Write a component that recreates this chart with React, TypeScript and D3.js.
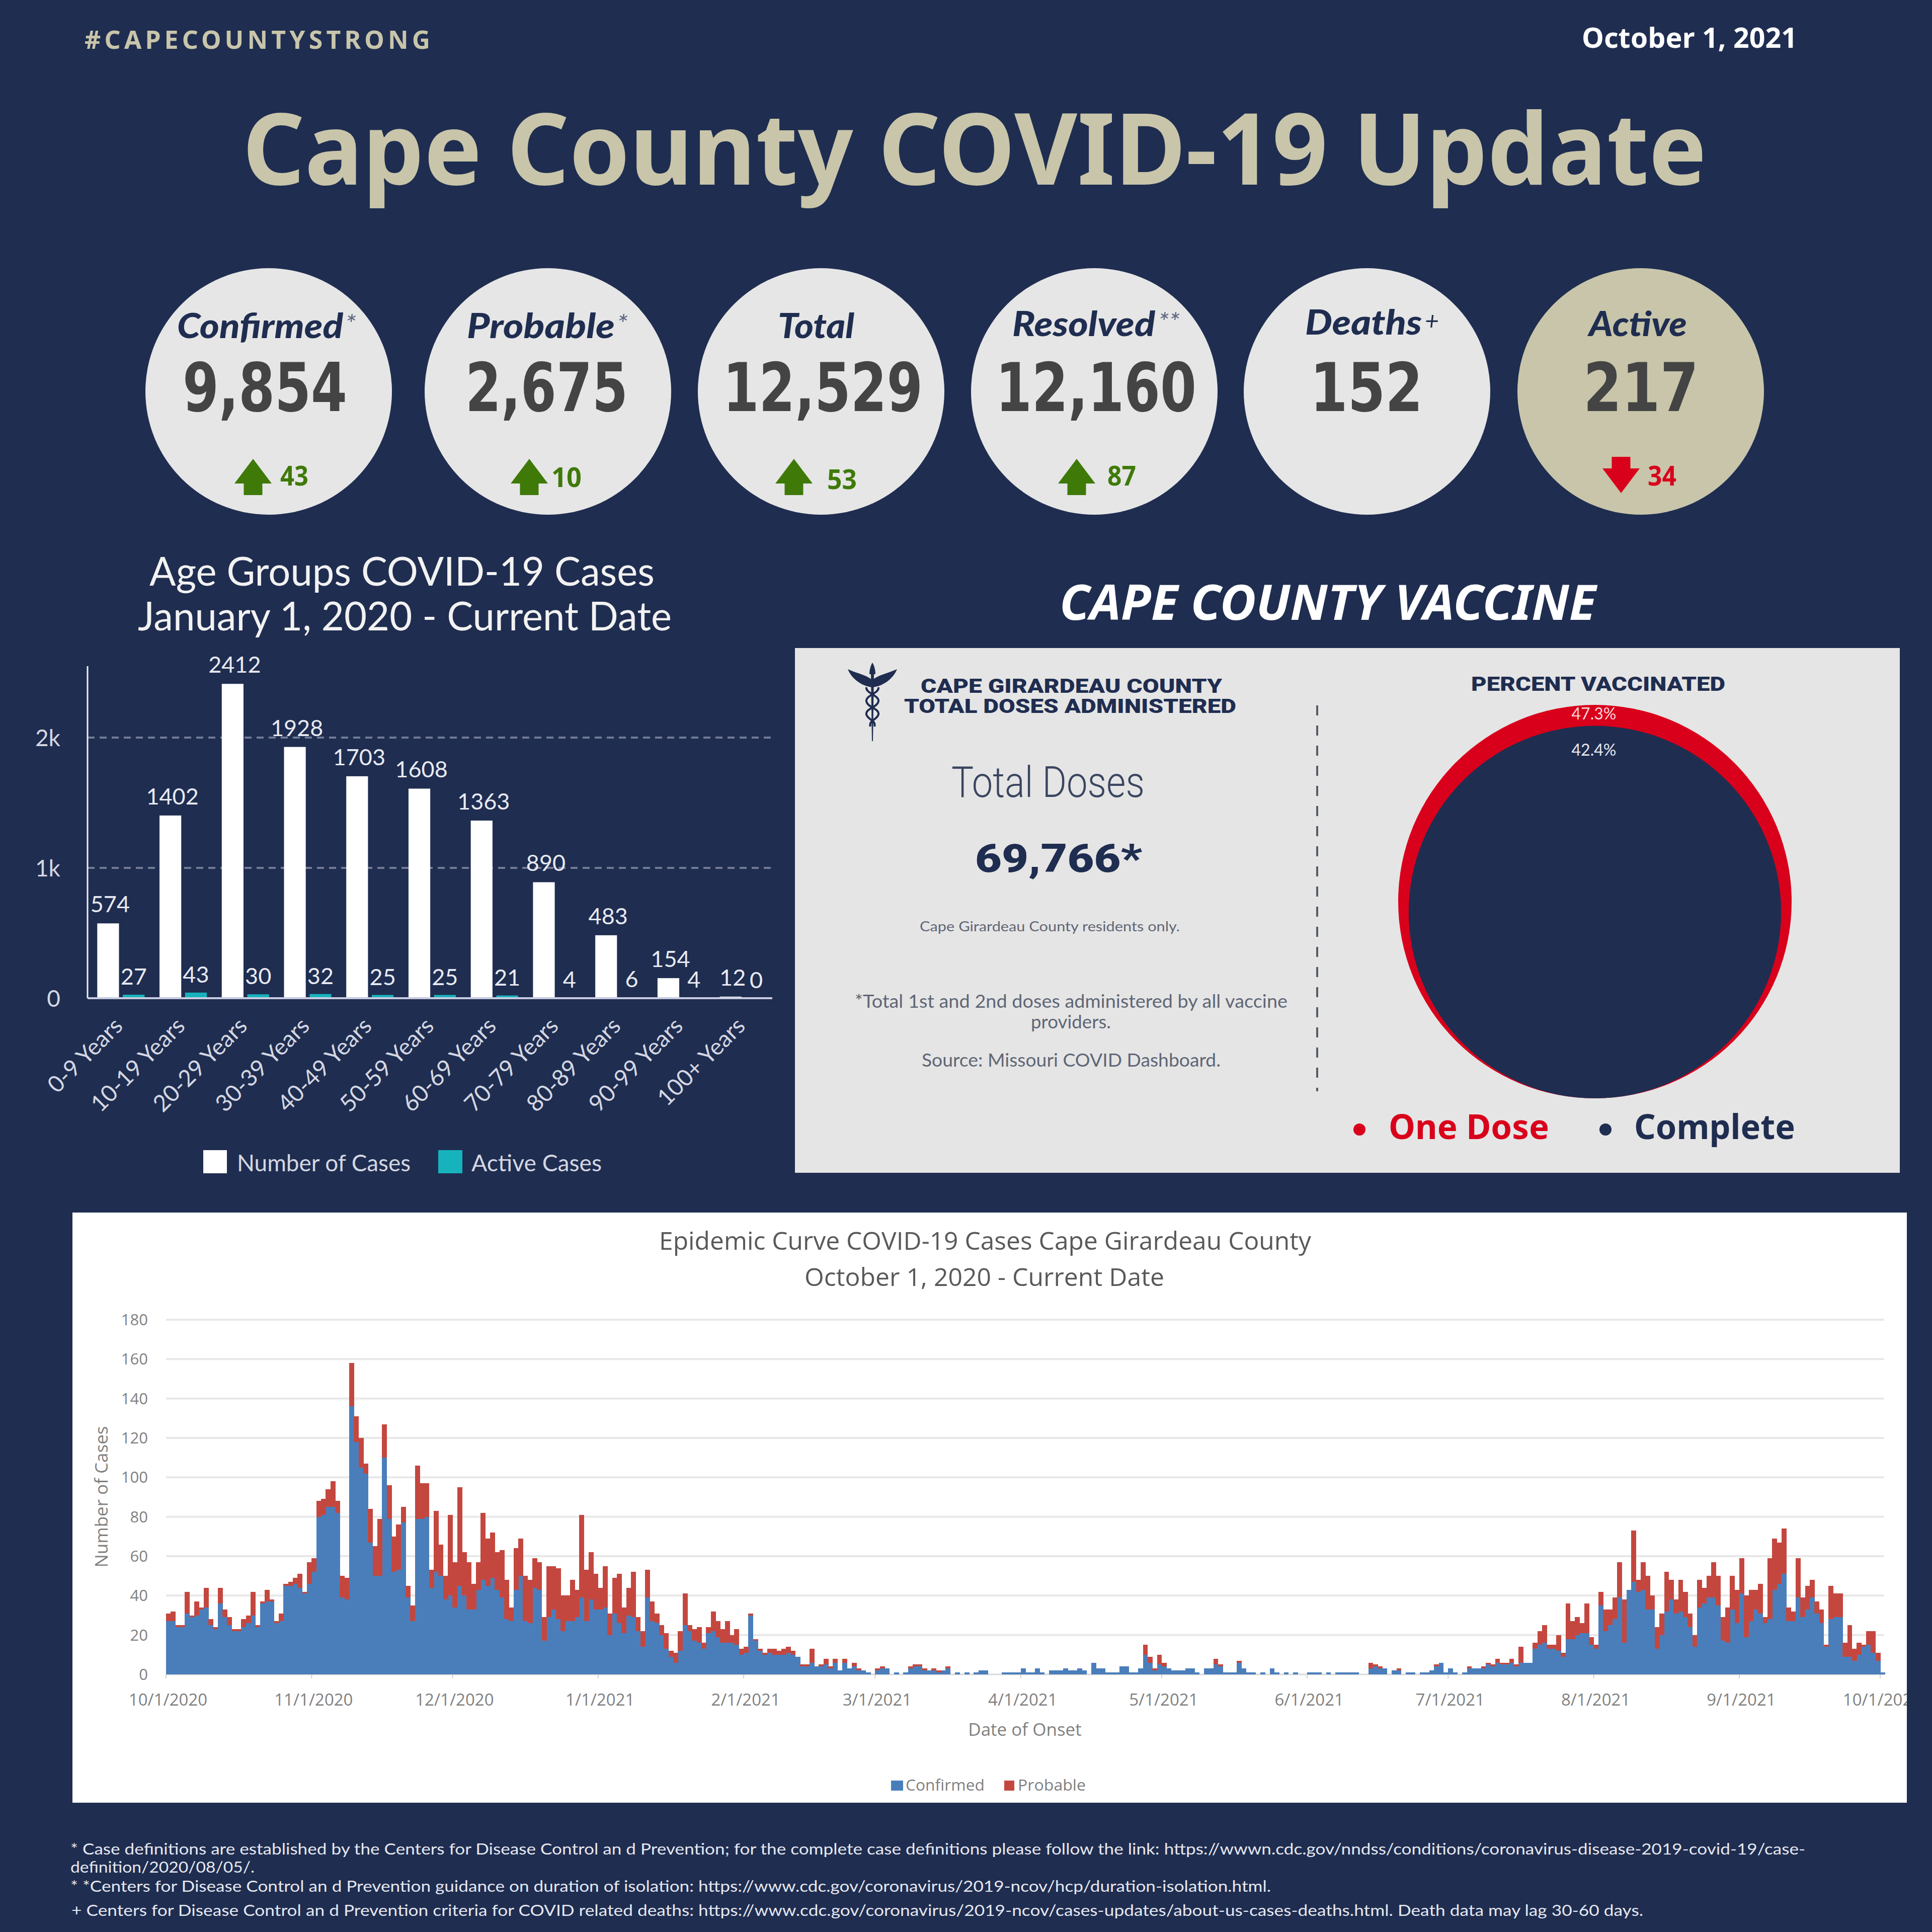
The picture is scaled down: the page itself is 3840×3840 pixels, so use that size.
import * as d3 from "d3";

// summary circles
const summaryLabels = ["Confirmed", "Probable", "Total", "Resolved", "Deaths", "Active"];
const summaryMarks = ["*", "*", "", "**", "+", ""];
const summaryValues = ["9,854", "2,675", "12,529", "12,160", "152", "217"];
const summaryChanges = [43, 10, 53, 87, null, -34];

// age group chart
const ageGroups = [
  "0-9 Years", "10-19 Years", "20-29 Years", "30-39 Years", "40-49 Years", "50-59 Years",
  "60-69 Years", "70-79 Years", "80-89 Years", "90-99 Years", "100+ Years",
];
const numberOfCases = [574, 1402, 2412, 1928, 1703, 1608, 1363, 890, 483, 154, 12];
const activeCases = [27, 43, 30, 32, 25, 25, 21, 4, 6, 4, 0];
const ageTicks = [0, 1000, 2000];

// vaccine
const percentOneDose = 47.3;
const percentComplete = 42.4;

// epi curve, one value per day from 10/1/2020 to 10/1/2021
const epiConfirmed = [
  27, 27, 24, 24, 31, 29, 30, 33, 34, 25, 23, 36, 29, 25, 22, 22, 24, 26, 30, 24,
  36, 37, 37, 26, 27, 45, 45, 46, 44, 41, 46, 52, 80, 81, 85, 85, 82, 39, 38, 136,
  118, 105, 102, 67, 50, 50, 110, 79, 52, 53, 77, 39, 27, 79, 79, 80, 44, 52, 50, 38,
  40, 34, 45, 40, 33, 33, 43, 48, 45, 49, 43, 39, 28, 27, 43, 50, 27, 26, 44, 43,
  17, 29, 33, 28, 22, 27, 27, 29, 39, 27, 38, 33, 33, 34, 20, 31, 26, 21, 30, 29,
  22, 14, 39, 27, 26, 20, 13, 9, 6, 12, 25, 22, 17, 16, 13, 21, 22, 19, 16, 16,
  16, 15, 10, 11, 30, 17, 12, 10, 11, 10, 10, 10, 11, 10, 9, 4, 4, 6, 4, 4,
  5, 3, 6, 2, 6, 3, 4, 2, 2, 1, 0, 2, 3, 3, 0, 1,
  0, 1, 3, 4, 4, 2, 2, 2, 1, 2, 3, 0, 1, 0, 1, 0, 1, 2, 2, 0,
  0, 0, 1, 1, 1, 1, 3, 1, 1, 3, 1, 0, 2, 2, 2, 3, 2, 2, 3, 2,
  0, 6, 3, 3, 1, 1, 1, 4, 4, 1, 1, 3, 10, 6, 2, 5, 4, 3, 2, 2,
  2, 3, 3, 1, 0, 3, 3, 5, 4, 1, 1, 1, 6, 3, 1, 1,
  0, 1, 0, 3, 1, 0, 1, 0, 1, 0, 0, 1, 1, 1, 0, 1, 0, 1, 1, 1,
  1, 1, 0, 0, 3, 4, 3, 3, 0, 2, 2, 0, 1, 1, 0, 1, 1, 2, 4, 6,
  1, 3, 1, 0, 1, 3, 3, 3, 3, 5, 4, 6, 5, 5,
  6, 4, 6, 6, 6, 13, 15, 16, 13, 13, 12, 9, 18, 18, 20, 21, 21, 15, 13, 35,
  22, 25, 28, 39, 16, 43, 47, 42, 43, 33, 33, 13, 20, 32, 38, 31, 32, 29, 24, 14,
  34, 36, 39, 39, 35, 17, 16, 33, 26, 41, 19, 27, 33, 31, 26, 28, 43, 46, 51, 27,
  27, 39, 29, 33, 39, 31, 26, 14, 28, 29, 29, 9, 9, 7, 10, 14, 15, 11, 7, 1,
];
const epiProbable = [
  4, 5, 1, 1, 11, 1, 7, 1, 10, 3, 1, 8, 4, 4, 1, 1, 4, 4, 12, 1,
  1, 6, 1, 1, 4, 1, 2, 3, 7, 1, 11, 7, 8, 8, 9, 13, 6, 11, 11, 22,
  13, 15, 5, 17, 15, 29, 17, 17, 18, 23, 8, 6, 8, 27, 18, 17, 9, 31, 16, 12,
  41, 23, 50, 22, 24, 13, 14, 34, 24, 23, 19, 24, 20, 7, 21, 19, 23, 22, 15, 14,
  12, 26, 22, 26, 18, 13, 21, 14, 42, 26, 24, 18, 11, 21, 11, 18, 25, 13, 14, 23,
  7, 8, 14, 10, 5, 5, 8, 3, 5, 10, 16, 3, 6, 8, 3, 3, 10, 8, 7, 11,
  4, 8, 3, 3, 1, 1, 1, 1, 2, 3, 2, 3, 3, 2, 0, 1, 1, 7, 0, 1,
  3, 1, 2, 0, 2, 0, 2, 1, 0, 0, 0, 1, 1, 0, 0, 0,
  0, 0, 1, 1, 1, 1, 0, 1, 1, 0, 1, 0, 0, 0, 0, 0, 0, 0, 0, 0,
  0, 0, 0, 0, 0, 0, 0, 0, 0, 0, 0, 0, 0, 0, 0, 0, 0, 0, 0, 0,
  0, 0, 0, 0, 0, 0, 0, 0, 0, 0, 0, 0, 5, 3, 1, 5, 2, 0, 0, 0,
  0, 0, 0, 0, 0, 0, 0, 3, 1, 0, 0, 0, 1, 0, 0, 0,
  0, 0, 0, 0, 0, 0, 0, 0, 0, 0, 0, 0, 0, 0, 0, 0, 0, 0, 0, 0,
  0, 0, 0, 0, 3, 1, 1, 0, 0, 0, 1, 0, 0, 0, 0, 0, 0, 0, 1, 0,
  0, 0, 0, 0, 0, 1, 0, 0, 1, 1, 1, 2, 1, 1,
  2, 1, 8, 0, 0, 3, 7, 9, 2, 2, 8, 2, 18, 9, 9, 5, 15, 4, 2, 7,
  11, 8, 11, 18, 22, 0, 26, 6, 14, 17, 7, 11, 11, 20, 10, 7, 16, 13, 7, 6,
  14, 8, 11, 18, 15, 12, 18, 17, 17, 18, 21, 16, 10, 15, 3, 31, 26, 21, 23, 7,
  5, 20, 10, 12, 9, 6, 7, 1, 17, 12, 12, 7, 16, 6, 6, 1, 7, 11, 4, 0,
];

const footnotes = [
  "* Case definitions are established by the Centers for Disease Control an d Prevention; for the complete case definitions please follow the link: https://wwwn.cdc.gov/nndss/conditions/coronavirus-disease-2019-covid-19/case-",
  "definition/2020/08/05/.",
  "* *Centers for Disease Control an d Prevention guidance on duration of isolation: https://www.cdc.gov/coronavirus/2019-ncov/hcp/duration-isolation.html.",
  "+ Centers for Disease Control an d Prevention criteria for COVID related deaths: https://www.cdc.gov/coronavirus/2019-ncov/cases-updates/about-us-cases-deaths.html.  Death data may lag 30-60 days.",
];

const NAVY = "#1f2d50";
const CREAM = "#c8c5aa";
const RED = "#d9001b";
const GREEN = "#3f7a08";

// text squeezed between two x positions
function Fit({ x0, x1, y, size, font = "Noto Sans", weight = 400, italic = false, fill, spacing = false, children }: any) {
  return (
    <text
      x={x0}
      y={y}
      textLength={x1 - x0}
      lengthAdjust={spacing ? "spacing" : "spacingAndGlyphs"}
      fontFamily={font}
      fontSize={size}
      fontWeight={weight}
      fontStyle={italic ? "italic" : "normal"}
      fill={fill}
    >
      {children}
    </text>
  );
}

function arrowPath(cx: number, top: number, bottom: number, halfW: number, up: boolean) {
  const dir = up ? 1 : -1;
  const tip = up ? top : bottom;
  const end = up ? bottom : top;
  const h = bottom - top;
  const p = d3.path();
  p.moveTo(cx, tip);
  p.lineTo(cx + halfW, tip + dir * h * 0.68);
  p.lineTo(cx + halfW * 0.5, tip + dir * h * 0.68);
  p.lineTo(cx + halfW * 0.5, end);
  p.lineTo(cx - halfW * 0.5, end);
  p.lineTo(cx - halfW * 0.5, tip + dir * h * 0.68);
  p.lineTo(cx - halfW, tip + dir * h * 0.68);
  p.closePath();
  return p.toString();
}

function Header() {
  return (
    <g>
      <Fit x0={168} x1={855} y={97} size={50} weight={700} fill={CREAM} spacing>#CAPECOUNTYSTRONG</Fit>
      <Fit x0={3144} x1={3572} y={95} size={56} weight={700} fill="#ffffff">October 1, 2021</Fit>
      <Fit x0={482} x1={3392} y={367} size={198} weight={700} fill={CREAM}>Cape County COVID-19 Update</Fit>
    </g>
  );
}

function Summary() {
  const cx = [534, 1089, 1632, 2175, 2717, 3261];
  const labelX = [[352, 682], [928, 1222], [1546, 1698], [2012, 2296], [2594, 2826], [3158, 3353]];
  const markX = [[686, 708], [1226, 1248], [0, 0], [2302, 2345], [2832, 2860], [0, 0]];
  const labelY = [672, 672, 672, 668, 665, 668];
  const valueX = [[363, 690], [925, 1248], [1437, 1834], [1979, 2378], [2604, 2828], [3147, 3376]];
  const arrowX = [503, 1052, 1578, 2140, 0, 3222];
  const changeX = [[557, 613], [1096, 1156], [1644, 1703], [2201, 2258], [0, 0], [3275, 3332]];
  const changeY = [965, 968, 972, 965, 0, 965];
  return (
    <g>
      {summaryLabels.map((label, i) => {
        const change = summaryChanges[i];
        const up = change !== null && change > 0;
        return (
          <g key={label}>
            <circle cx={cx[i]} cy={778} r={245} fill={i === 5 ? CREAM : "#e6e6e6"} />
            <Fit x0={labelX[i][0]} x1={labelX[i][1]} y={labelY[i]} size={68} font="Lato" weight={900} italic fill={NAVY}>{label}</Fit>
            {summaryMarks[i] && (
              <Fit x0={markX[i][0]} x1={markX[i][1]} y={labelY[i] - 10} size={50} font="Lato" italic fill={summaryMarks[i] === "+" ? NAVY : "#5c6680"}>{summaryMarks[i]}</Fit>
            )}
            <Fit x0={valueX[i][0]} x1={valueX[i][1]} y={817} size={134} font="DejaVu Sans" weight={700} fill="#444444">{summaryValues[i]}</Fit>
            {change !== null && (
              <g>
                <path d={arrowPath(arrowX[i], up ? 912 : 908, up ? 984 : 980, 37, up)} fill={up ? GREEN : RED} />
                <Fit x0={changeX[i][0]} x1={changeX[i][1]} y={changeY[i]} size={54} weight={700} fill={up ? GREEN : RED}>{Math.abs(change)}</Fit>
              </g>
            )}
          </g>
        );
      })}
    </g>
  );
}

function AgeChart() {
  const font = "Lato";
  const left = 174;
  const right = 1535;
  const base = 1984;
  const x = d3.scaleBand<string>().domain(ageGroups).range([left, right]).paddingInner(0.24).paddingOuter(0.12).align(0.65);
  const sub = d3.scaleBand<string>().domain(["cases", "active"]).range([0, x.bandwidth()]).paddingInner(0.15);
  const y = d3.scaleLinear().domain([0, 2548]).range([base, 1324]);
  const fmt = d3.format("~s");
  const lines = ["Age Groups COVID-19 Cases", "January 1, 2020 - Current Date"];
  return (
    <g fontFamily={font}>
      <Fit x0={297} x1={1301} y={1164} size={80} font={font} fill="#f2f2f2">{lines[0]}</Fit>
      <Fit x0={274} x1={1335} y={1253} size={80} font={font} fill="#f2f2f2">{lines[1]}</Fit>

      {ageTicks.filter((t) => t > 0).map((t) => (
        <line key={t} x1={left} x2={right} y1={y(t)} y2={y(t)} stroke="#727b96" strokeWidth={4} strokeDasharray="14 10" />
      ))}
      {ageTicks.map((t) => (
        <text key={t} x={120} y={y(t) + 17} textAnchor="end" fontSize={46} fill="#d4d7e2">{fmt(t)}</text>
      ))}

      {ageGroups.map((g, i) => {
        const gx = x(g) as number;
        const cx = gx + (sub("cases") as number);
        const ax = gx + (sub("active") as number);
        return (
          <g key={g}>
            <rect x={cx} y={y(numberOfCases[i])} width={sub.bandwidth()} height={base - y(numberOfCases[i])} fill="#ffffff" />
            <rect x={ax} y={y(activeCases[i])} width={sub.bandwidth()} height={base - y(activeCases[i])} fill="#17b3bd" />
            <text x={cx + sub.bandwidth() / 2 + 4} y={y(numberOfCases[i]) - 22} textAnchor="middle" fontSize={45} fill="#e8eaf2">{numberOfCases[i]}</text>
            <text x={ax + sub.bandwidth() / 2} y={y(activeCases[i]) - 20} textAnchor="middle" fontSize={45} fill="#e8eaf2">{activeCases[i]}</text>
            <text
              transform={`translate(${gx + x.bandwidth() / 2 - 2},2034) rotate(-45)`}
              textAnchor="end"
              dominantBaseline="middle"
              fontSize={46}
              fill="#d4d7e2"
            >
              {g}
            </text>
          </g>
        );
      })}

      <line x1={left} x2={left} y1={1324} y2={base} stroke="#eef0f6" strokeWidth={3} />
      <line x1={left} x2={right} y1={base} y2={base} stroke="#c8cbe0" strokeWidth={4} />

      <rect x={404} y={2286} width={47} height={46} fill="#ffffff" />
      <Fit x0={471} x1={816} y={2328} size={46} font={font} fill="#d4d7e2">Number of Cases</Fit>
      <rect x={871} y={2286} width={48} height={46} fill="#17b3bd" />
      <Fit x0={937} x1={1196} y={2328} size={46} font={font} fill="#d4d7e2">Active Cases</Fit>
    </g>
  );
}

function Caduceus() {
  const cx = 1734;
  return (
    <g fill={NAVY} stroke="none">
      <path d={`M${cx - 3},1340 L${cx + 3},1340 L${cx + 1},1473 L${cx - 1},1473 Z`} />
      <circle cx={cx} cy={1333} r={5} />
      <path d={`M${cx},1352 C${cx - 10},1342 ${cx - 32},1338 ${cx - 49},1330 C${cx - 42},1348 ${cx - 22},1364 ${cx},1366 Z`} />
      <path d={`M${cx},1352 C${cx + 10},1342 ${cx + 32},1338 ${cx + 49},1330 C${cx + 42},1348 ${cx + 22},1364 ${cx},1366 Z`} />
      <path d={`M${cx - 6},1340 C${cx - 6},1330 ${cx - 3},1322 ${cx},1317 C${cx + 3},1322 ${cx + 6},1330 ${cx + 6},1340 Z`} />
      <path
        d={`M${cx - 12},1366 C${cx - 14},1378 ${cx + 14},1382 ${cx + 12},1394 C${cx + 10},1406 ${cx - 14},1408 ${cx - 12},1420 C${cx - 10},1430 ${cx + 8},1432 ${cx + 4},1444`}
        fill="none"
        stroke={NAVY}
        strokeWidth={4}
      />
      <path
        d={`M${cx + 12},1366 C${cx + 14},1378 ${cx - 14},1382 ${cx - 12},1394 C${cx - 10},1406 ${cx + 14},1408 ${cx + 12},1420 C${cx + 10},1430 ${cx - 8},1432 ${cx - 4},1444`}
        fill="none"
        stroke={NAVY}
        strokeWidth={4}
      />
    </g>
  );
}

function VaccinePanel() {
  const grey = "#5f6675";
  // bubbles sized by area and sitting on the same bottom point
  const r = d3.scaleSqrt().domain([0, percentOneDose]).range([0, 391]);
  const bottom = 2183;
  const cx = 3170;
  return (
    <g>
      <Fit x0={2106} x1={3172} y={1232} size={96} weight={700} italic fill="#ffffff">CAPE COUNTY VACCINE</Fit>
      <rect x={1580} y={1288} width={2196} height={1043} fill="#e5e5e5" />
      <Caduceus />
      <Fit x0={1830} x1={2429} y={1377} size={38} font="Roboto" weight={900} fill={NAVY}>CAPE GIRARDEAU COUNTY</Fit>
      <Fit x0={1797} x1={2457} y={1417} size={38} font="Roboto" weight={900} fill={NAVY}>TOTAL DOSES ADMINISTERED</Fit>
      <Fit x0={1891} x1={2275} y={1584} size={86} font="Roboto" weight={300} fill="#3a4560">Total Doses</Fit>
      <Fit x0={1938} x1={2270} y={1733} size={78} font="Roboto" weight={900} fill={NAVY}>69,766*</Fit>
      <Fit x0={1828} x1={2345} y={1851} size={27} font="Lato" fill={grey}>Cape Girardeau County residents only.</Fit>
      <Fit x0={1699} x1={2559} y={2003} size={36} font="Lato" fill={grey}>*Total 1st and 2nd doses administered by all vaccine</Fit>
      <Fit x0={2049} x1={2208} y={2044} size={36} font="Lato" fill={grey}>providers.</Fit>
      <Fit x0={1832} x1={2426} y={2120} size={36} font="Lato" fill={grey}>Source: Missouri COVID Dashboard.</Fit>
      <line x1={2618} x2={2618} y1={1402} y2={2169} stroke="#555b66" strokeWidth={4} strokeDasharray="20 20" />

      <Fit x0={2924} x1={3429} y={1373} size={38} font="Roboto" weight={900} fill={NAVY}>PERCENT VACCINATED</Fit>
      <circle cx={cx} cy={bottom - r(percentOneDose)} r={r(percentOneDose)} fill={RED} />
      <circle cx={cx} cy={bottom - r(percentComplete)} r={r(percentComplete)} fill={NAVY} />
      <text x={cx - 2} y={1430} textAnchor="middle" fontFamily="Lato" fontSize={32} fill="#f6d5da">{percentOneDose}%</text>
      <text x={cx - 2} y={1502} textAnchor="middle" fontFamily="Lato" fontSize={32} fill="#e6e8ee">{percentComplete}%</text>

      <circle cx={2702} cy={2245} r={12} fill={RED} />
      <Fit x0={2760} x1={3079} y={2264} size={68} weight={700} fill={RED}>One Dose</Fit>
      <circle cx={3191} cy={2245} r={12} fill={NAVY} />
      <Fit x0={3248} x1={3568} y={2264} size={68} weight={700} fill={NAVY}>Complete</Fit>
    </g>
  );
}

function EpiCurve() {
  const font = "Open Sans";
  const grey = "#7f7f7f";
  const base = 3328;
  const start = new Date(Date.UTC(2020, 9, 1));
  const end = new Date(Date.UTC(2021, 9, 1));
  const x = d3.scaleUtc().domain([start, end]).range([330, 3737]);
  const y = d3.scaleLinear().domain([0, 180]).range([base, 2623]);
  const days = d3.utcDay.range(start, d3.utcDay.offset(end, 1));
  const rows = days.map((date, i) => ({ date, confirmed: epiConfirmed[i], probable: epiProbable[i] }));
  const stacked = d3.stack<any>().keys(["confirmed", "probable"])(rows);
  const colors = ["#4a7ebb", "#c4473f"];
  const fmt = d3.utcFormat("%-m/%-d/%Y");
  const months = d3.utcMonth.range(start, d3.utcDay.offset(end, 1));
  const dayW = x(days[1]) - x(days[0]);
  return (
    <g fontFamily={font}>
      <defs>
        <clipPath id="epi-panel">
          <rect x={144} y={2410} width={3646} height={1173} />
        </clipPath>
      </defs>
      <rect x={144} y={2410} width={3646} height={1173} fill="#ffffff" />
      <Fit x0={1310} x1={2606} y={2484} size={50} font={font} fill="#595959">Epidemic Curve COVID-19 Cases Cape Girardeau County</Fit>
      <Fit x0={1599} x1={2314} y={2556} size={50} font={font} fill="#595959">October 1, 2020 - Current Date</Fit>

      {y.ticks(10).map((t) => (
        <g key={t}>
          {t > 0 && <line x1={330} x2={3745} y1={y(t)} y2={y(t)} stroke="#e8e8e8" strokeWidth={4} />}
          <text x={294} y={y(t) + 11} textAnchor="end" fontSize={31} fill={grey}>{t}</text>
        </g>
      ))}
      <line x1={330} x2={3745} y1={base} y2={base} stroke="#d9d9d9" strokeWidth={3} />

      {stacked.map((series, k) => (
        <g key={series.key} fill={colors[k]} shapeRendering="crispEdges">
          {series.map((d, i) =>
            d[1] > d[0] ? (
              <rect key={i} x={x(days[i])} y={y(d[1])} width={dayW + 0.5} height={y(d[0]) - y(d[1])} />
            ) : null
          )}
        </g>
      ))}

      <g clipPath="url(#epi-panel)">
        {months.map((m) => (
          <g key={m.toISOString()}>
            <line x1={x(m)} x2={x(m)} y1={base} y2={base + 8} stroke="#d0d0d0" strokeWidth={2} />
            <text x={x(m) + 4} y={3390} textAnchor="middle" fontSize={33} fill={grey}>{fmt(m)}</text>
          </g>
        ))}
      </g>

      <text transform="translate(214,2975) rotate(-90)" textAnchor="middle" fontSize={35} fill={grey}>Number of Cases</text>
      <text x={2037} y={3450} textAnchor="middle" fontSize={35} fill={grey}>Date of Onset</text>

      <rect x={1771} y={3539} width={24} height={20} fill={colors[0]} />
      <Fit x0={1800} x1={1957} y={3559} size={31} font={font} fill={grey}>Confirmed</Fit>
      <rect x={1996} y={3539} width={20} height={20} fill={colors[1]} />
      <Fit x0={2023} x1={2158} y={3559} size={31} font={font} fill={grey}>Probable</Fit>
    </g>
  );
}

function Footnotes() {
  const ys = [3686, 3722, 3760, 3808];
  const xs = [[140, 3588], [140, 506], [140, 2526], [142, 3266]];
  return (
    <g>
      {footnotes.map((t, i) => (
        <Fit key={i} x0={xs[i][0]} x1={xs[i][1]} y={ys[i]} size={31} font="Lato" fill="#e6e8f0">{t}</Fit>
      ))}
    </g>
  );
}

export default function App() {
  return (
    <svg width={3840} height={3840} viewBox="0 0 3840 3840" style={{ position: "absolute", left: 0, top: 0 }}>
      <rect width={3840} height={3840} fill={NAVY} />
      <Header />
      <Summary />
      <AgeChart />
      <VaccinePanel />
      <EpiCurve />
      <Footnotes />
    </svg>
  );
}
